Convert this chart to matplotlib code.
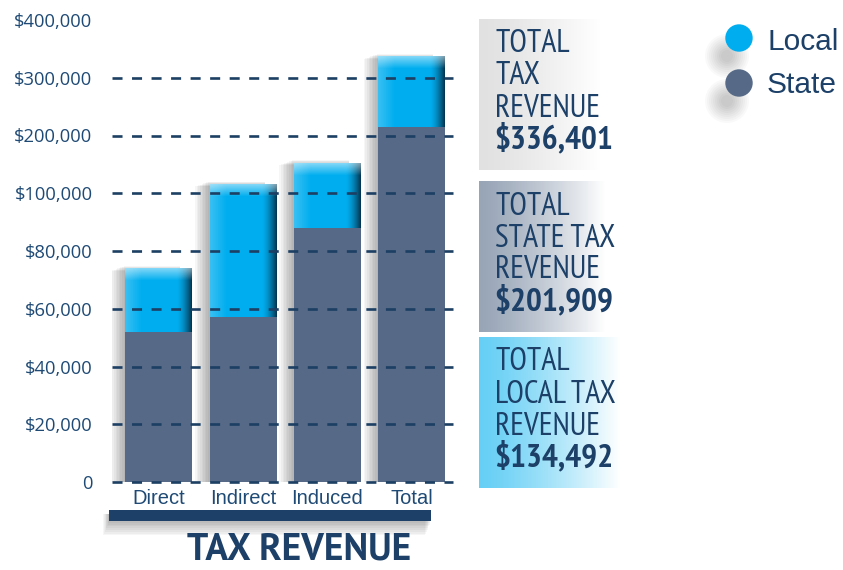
import numpy as np
import matplotlib.pyplot as plt
from matplotlib.patches import Rectangle, Circle
from matplotlib.colors import to_rgb

# data
categories = ['Direct', 'Indirect', 'Induced', 'Total']
state = [52000, 57000, 88000, 214000]
local = [22000, 59000, 65000, 123000]
tick_vals = [0, 20000, 40000, 60000, 80000, 100000, 200000, 300000, 400000]
tick_labels = ['0', '$20,000', '$40,000', '$60,000', '$80,000', '$100,000',
               '$200,000', '$300,000', '$400,000']
legend_labels = ['Local', 'State']
panel_titles = [['TOTAL', 'TAX', 'REVENUE'],
                ['TOTAL', 'STATE TAX', 'REVENUE'],
                ['TOTAL', 'LOCAL TAX', 'REVENUE']]
panel_values = ['$336,401', '$201,909', '$134,492']

NAVY = '#1c4068'
TXT = '#1f4a75'
LOCAL_C = '#00aeef'
STATE_C = '#566a87'
NARROW = ['PT Sans Narrow', 'DejaVu Sans']

W, H = 843, 570
fig = plt.figure(figsize=(W / 100, H / 100), dpi=100)

# overlay in pixel coords for the decorations
ov = fig.add_axes([0, 0, 1, 1], zorder=0)
ov.axis('off')

# uneven y axis: equal spacing between ticks
idx = np.arange(len(tick_vals), dtype=float)


def fwd(v):
    v = np.asarray(v, dtype=float)
    out = np.interp(v, tick_vals, idx)
    out = np.where(v < 0, v / 20000, out)
    return np.where(v > 400000, 8 + (v - 400000) / 100000, out)


def inv(u):
    u = np.asarray(u, dtype=float)
    out = np.interp(u, idx, tick_vals)
    out = np.where(u < 0, u * 20000, out)
    return np.where(u > 8, 400000 + (u - 8) * 100000, out)


ax = fig.add_axes([112 / W, 1 - 482 / H, 341 / W, 462 / H], zorder=1)
ax.set_yscale('function', functions=(fwd, inv))
ax.set_ylim(0, 400000)
ax.set_xlim(-0.555, 3.49)
ax.patch.set_visible(False)
for s in ax.spines.values():
    s.set_visible(False)

x = np.arange(len(categories))
wb = 0.795
xu = 4.045 / 341   # x data per pixel
yu = 8 / 462       # scale units per pixel
state = np.array(state)
local = np.array(local)
tops = state + local

# soft shadow on the left of the bars
for k in range(1, 10):
    left = x - wb / 2 - 1.6 * k * xu
    right = x + wb / 2 - 12 * xu
    ax.bar(left, inv(fwd(tops) + (3 - 0.6 * k) * yu), right - left, align='edge',
           color='black', alpha=0.035, lw=0, zorder=1)

ax.bar(x, state, wb, color=STATE_C, lw=0, zorder=2)
ax.bar(x, local, wb, bottom=state, color=LOCAL_C, lw=0, zorder=2)

# left light edge
n = 16
for k in range(n):
    ax.bar(x - wb / 2 + (k + 0.5) * xu, local, xu * 1.05, bottom=state,
           color='white', alpha=0.22 * (1 - k / n), lw=0, zorder=3)
# right dark edge
n = 15
for k in range(n):
    ax.bar(x + wb / 2 - (n - k - 0.5) * xu, local, xu * 1.05, bottom=state,
           color='#00263d', alpha=0.88 * ((k + 1) / n) ** 1.6, lw=0, zorder=3)
# top bevel
n = 12
for k in range(n):
    lo = inv(fwd(tops) - (k + 1) * yu)
    hi = inv(fwd(tops) - k * yu)
    ax.bar(x, hi - lo, wb, bottom=lo, color='white',
           alpha=0.5 * (1 - k / n), lw=0, zorder=3)

for v in tick_vals[:-1]:
    ax.axhline(v, color='#1c3f63', lw=1.9, dashes=(3.8, 3.6), zorder=5,
               clip_on=False)

ax.set_yticks(tick_vals, tick_labels)
ax.tick_params(axis='y', length=0, pad=14, labelsize=13.2, labelcolor=TXT)
for lab in ax.get_yticklabels():
    lab.set_fontfamily('Open Sans')
ax.set_xticks(x, categories)
ax.tick_params(axis='x', length=0, pad=5, labelsize=14.5, labelcolor=TXT)
for lab in ax.get_xticklabels():
    lab.set_fontfamily('Liberation Sans')

# bottom bar with shadow
for k in range(1, 9):
    ov.add_patch(Rectangle((109 - 0.7 * k, 514), 322, 7 + 1.8 * k,
                           color='black', alpha=0.035, lw=0))
ov.add_patch(Rectangle((109, 510), 322, 11, color=NAVY, lw=0))
fig.text(299 / W, 1 - 560 / H, 'TAX REVENUE', ha='center', va='baseline',
         fontsize=27, fontweight='bold', family=['PT Sans', 'DejaVu Sans'],
         color=NAVY)

# side panels
boxes = [(19, 170, 600, '#e1e1e1'), (181, 332, 605, '#98a5b7'),
         (337, 488, 620, '#66cff5')]
baselines = [[52, 84, 117, 148], [215, 247, 278, 310], [370, 403, 435, 466]]
t = np.linspace(0, 1, 256)
for (y0, y1, xr, c), lines, title, val in zip(boxes, baselines, panel_titles, panel_values):
    c0 = np.array(to_rgb(c))
    f = np.clip(t ** 1.3, 0, 1)[:, None]
    img = (c0 * (1 - f) + f)[None, :, :]
    ov.imshow(img, extent=(479, xr, y1, y0), aspect='auto', zorder=0)
    for txt, yb in zip(title, lines[:3]):
        fig.text(495 / W, 1 - yb / H, txt, ha='left', va='baseline',
                 fontsize=23, family=NARROW, color=NAVY)
    fig.text(494 / W, 1 - lines[3] / H, val, ha='left', va='baseline',
             fontsize=24, fontweight='bold', family=NARROW, color=NAVY)

# legend
for (cy, yb), lab, col in zip([(38, 50), (83, 93)], legend_labels, [LOCAL_C, STATE_C]):
    for r in range(6, 24, 2):
        ov.add_patch(Circle((727, cy + 18), r, color='black', alpha=0.022, lw=0))
    ov.add_patch(Circle((739, cy), 13.7, color=col, lw=0, zorder=3))
    fig.text(767 / W, 1 - yb / H, lab, ha='left', va='baseline', fontsize=21.5,
             family='Liberation Sans', color=NAVY)

ov.set_xlim(0, W)
ov.set_ylim(H, 0)
fig.savefig('out.png', dpi=100)
